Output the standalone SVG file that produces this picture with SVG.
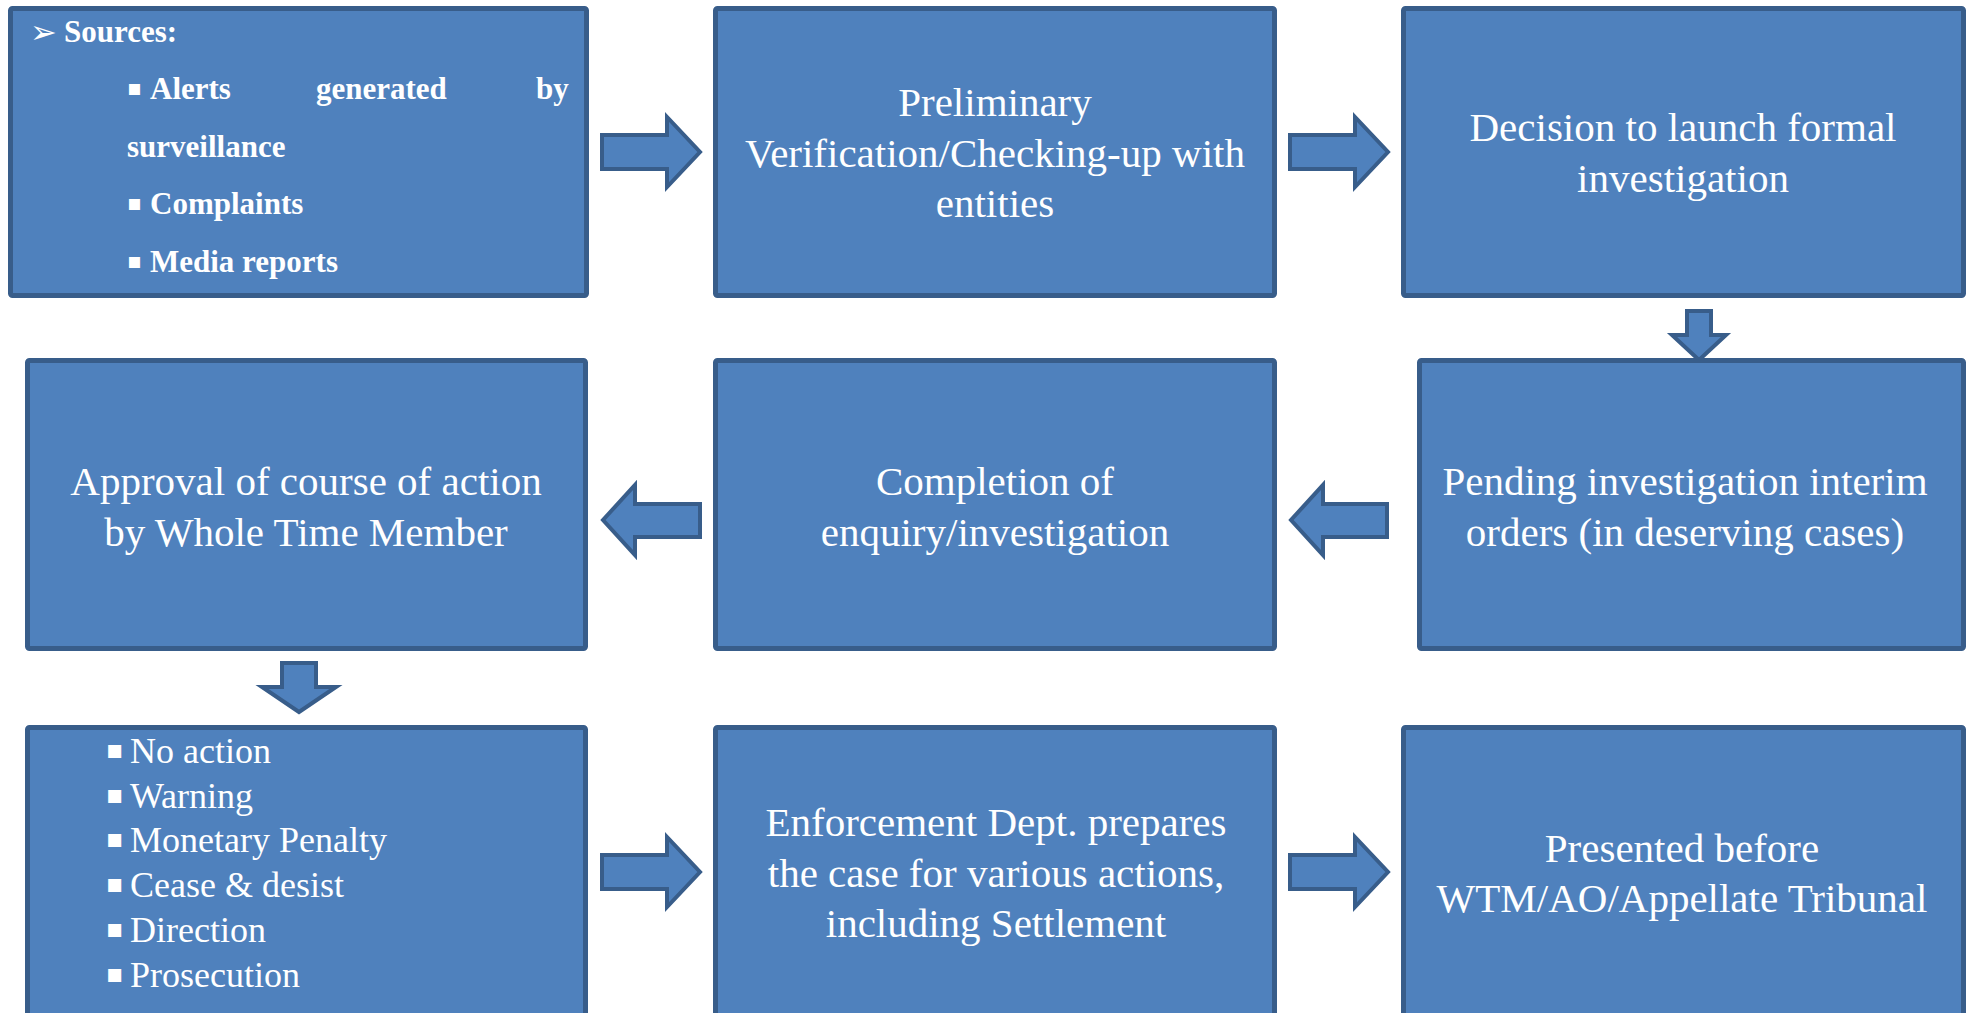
<svg xmlns="http://www.w3.org/2000/svg" width="1981" height="1013" viewBox="0 0 1981 1013">
  <defs>
    <style>
      .box { fill: #4F81BD; stroke: #385D8A; stroke-width: 5; }
      .arr { fill: #4F81BD; stroke: #385D8A; stroke-width: 4; stroke-linejoin: miter; }
      .t { font-family: "Liberation Serif", "Times New Roman", serif; fill: #FFFFFF; font-size: 41px; text-anchor: middle; }
      .b { font-family: "Liberation Serif", "Times New Roman", serif; fill: #FFFFFF; font-size: 31px; font-weight: bold; }
      .l { font-family: "Liberation Serif", "Times New Roman", serif; fill: #FFFFFF; font-size: 36px; }
      .sq { font-family: "DejaVu Sans", sans-serif; fill: #FFFFFF; }
    </style>
  </defs>
  <rect width="1981" height="1013" fill="#FFFFFF"/>

  <g id="connectors">
    <path class="arr" d="M602,135 H667 V117 L700,152 L667,187 V169 H602 Z"/>
    <path class="arr" d="M1290,135 H1355 V117 L1388,152 L1355,187 V169 H1290 Z"/>
    <path class="arr" d="M1687,311 H1711 V335 H1726 L1699,360 L1672,335 H1687 Z"/>
    <path class="arr" d="M700,504 H635 V485 L603,520 L635,555 V537 H700 Z"/>
    <path class="arr" d="M1387,504 H1323 V485 L1291,520 L1323,555 V537 H1387 Z"/>
    <path class="arr" d="M282,663 H316 V687 H336 L299,712 L262,687 H282 Z"/>
    <path class="arr" d="M602,855 H667 V837 L700,872 L667,907 V889 H602 Z"/>
    <path class="arr" d="M1290,855 H1355 V837 L1388,872 L1355,907 V889 H1290 Z"/>
  </g>

  <g id="sources">
    <rect class="box" x="10.5" y="8.5" width="576" height="287" rx="2"/>
    <text class="sq" x="30" y="43" font-size="32">➢</text>
    <text class="b" x="64" y="42">Sources:</text>
    <text class="sq" x="127" y="95" font-size="22">▪</text>
    <text class="b" y="99"><tspan x="150">Alerts</tspan><tspan x="316">generated</tspan><tspan x="536">by</tspan></text>
    <text class="b" x="127" y="157">surveillance</text>
    <text class="sq" x="127" y="210" font-size="22">▪</text>
    <text class="b" x="150" y="214">Complaints</text>
    <text class="sq" x="127" y="268" font-size="22">▪</text>
    <text class="b" x="150" y="272">Media reports</text>
  </g>

  <g id="preliminary">
    <rect class="box" x="715.5" y="8.5" width="559" height="287" rx="2"/>
    <text class="t" x="995" y="116">Preliminary</text>
    <text class="t" x="995" y="167">Verification/Checking-up with</text>
    <text class="t" x="995" y="217">entities</text>
  </g>

  <g id="decision">
    <rect class="box" x="1403.5" y="8.5" width="560" height="287" rx="2"/>
    <text class="t" x="1683" y="141">Decision to launch formal</text>
    <text class="t" x="1683" y="192">investigation</text>
  </g>

  <g id="pending">
    <rect class="box" x="1419.5" y="360.5" width="544" height="288" rx="2"/>
    <text class="t" x="1685" y="495">Pending investigation interim</text>
    <text class="t" x="1685" y="546">orders (in deserving cases)</text>
  </g>

  <g id="completion">
    <rect class="box" x="715.5" y="360.5" width="559" height="288" rx="2"/>
    <text class="t" x="995" y="495">Completion of</text>
    <text class="t" x="995" y="546">enquiry/investigation</text>
  </g>

  <g id="approval">
    <rect class="box" x="27.5" y="360.5" width="558" height="288" rx="2"/>
    <text class="t" x="306" y="495">Approval of course of action</text>
    <text class="t" x="306" y="546">by Whole Time Member</text>
  </g>

  <g id="actions">
    <rect class="box" x="27.5" y="727.5" width="558" height="300" rx="2"/>
    <text class="sq" x="106" y="758" font-size="26">▪</text>
    <text class="l" x="130" y="763">No action</text>
    <text class="sq" x="106" y="803" font-size="26">▪</text>
    <text class="l" x="130" y="808">Warning</text>
    <text class="sq" x="106" y="847" font-size="26">▪</text>
    <text class="l" x="130" y="852">Monetary Penalty</text>
    <text class="sq" x="106" y="892" font-size="26">▪</text>
    <text class="l" x="130" y="897">Cease &amp; desist</text>
    <text class="sq" x="106" y="937" font-size="26">▪</text>
    <text class="l" x="130" y="942">Direction</text>
    <text class="sq" x="106" y="982" font-size="26">▪</text>
    <text class="l" x="130" y="987">Prosecution</text>
  </g>

  <g id="enforcement">
    <rect class="box" x="715.5" y="727.5" width="559" height="300" rx="2"/>
    <text class="t" x="996" y="836">Enforcement Dept. prepares</text>
    <text class="t" x="996" y="887">the case for various actions,</text>
    <text class="t" x="996" y="937">including Settlement</text>
  </g>

  <g id="presented">
    <rect class="box" x="1403.5" y="727.5" width="560" height="300" rx="2"/>
    <text class="t" x="1682" y="862">Presented before</text>
    <text class="t" x="1682" y="912">WTM/AO/Appellate Tribunal</text>
  </g>
</svg>
